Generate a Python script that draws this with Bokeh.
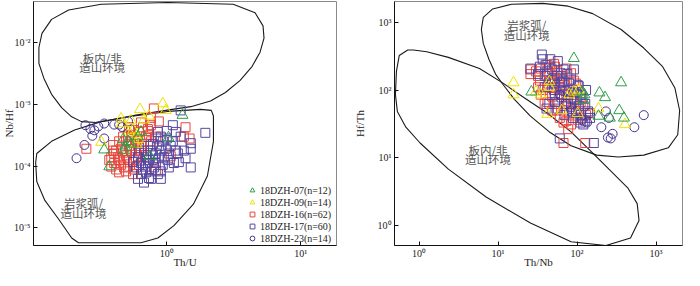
from bokeh.plotting import figure
from bokeh.layouts import row
from bokeh.models import (CustomJSTickFormatter, FixedTicker, Legend, LegendItem, Range1d)
from bokeh.core.properties import value
from bokeh.embed import file_html
from bokeh.resources import INLINE

# ---------------- data: left panel (Th/U vs Nb/Hf) ----------------
g07_thu = [1.31, 1.03, 0.748, 0.372, 0.341, 0.472, 0.514, 0.489, 0.480, 0.610, 0.541, 0.642]
g07_nbhf = [6.7e-4, 2.9e-4, 1.44e-4, 9.8e-5, 1.84e-4, 2.7e-4, 2.52e-4, 2.05e-4, 1.78e-4, 3.0e-4, 2.27e-4, 3.58e-4]

y09_thu = [0.934, 0.983, 0.631, 0.736, 0.676, 0.456, 0.464, 0.541, 0.324, 0.560, 0.600, 0.610, 0.589, 0.523]
y09_nbhf = [1.03e-3, 8.0e-4, 8.3e-4, 6.5e-4, 5.65e-4, 5.85e-4, 4.9e-4, 5.45e-4, 2.44e-4, 3.84e-4, 3.22e-4, 2.7e-4, 2.27e-4, 3.58e-4]

r16_thu = [0.801, 0.872, 1.38, 1.34, 1.48, 1.07, 0.829, 0.251, 0.398, 0.514, 0.723, 0.761, 0.642, 0.723,
           0.610, 0.589, 0.570, 0.570, 0.676, 0.736, 0.385, 0.405, 0.419, 0.441, 0.480, 0.514, 0.560, 0.472,
           0.541, 0.589, 0.385, 0.434, 0.456, 0.497, 0.523, 0.456, 0.419, 0.497, 0.541, 0.620, 0.664, 0.570,
           0.523, 0.441, 0.405, 0.642, 0.699, 0.620, 0.497, 0.398, 0.472, 0.589, 0.761, 0.829, 0.441, 0.523,
           0.699, 0.642, 0.480, 0.541, 0.372, 0.761]
r16_nbhf = [8.6e-4, 5.3e-4, 4.26e-4, 3.0e-4, 2.8e-4, 1.44e-4, 8.5e-5, 1.91e-4, 2.19e-4, 3.22e-4, 3.71e-4, 6.05e-4,
            5.1e-4, 3.98e-4, 2.7e-4, 1.78e-4, 1.25e-4, 8.8e-5, 2.27e-4, 3.22e-4, 1.39e-4, 1.12e-4, 8.8e-5, 7.9e-5,
            1.25e-4, 9.8e-5, 7.4e-5, 1.65e-4, 1.78e-4, 1.39e-4, 9.8e-5, 1.39e-4, 1.05e-4, 1.49e-4, 2.12e-4, 1.91e-4,
            1.78e-4, 2.52e-4, 3.0e-4, 3.58e-4, 4.26e-4, 3.84e-4, 4.26e-4, 2.52e-4, 1.6e-4, 1.78e-4, 1.49e-4, 1.05e-4,
            8.2e-5, 1.78e-4, 3.0e-4, 2.35e-4, 2.52e-4, 3.0e-4, 1.25e-4, 1.25e-4, 3.0e-4, 2.12e-4, 9.5e-5, 2.52e-4,
            1.25e-4, 4.6e-4]

p17_thu = [1.27, 1.11, 1.0, 1.94, 1.51, 1.51, 1.21, 1.23, 1.51, 0.858, 1.0, 0.858, 0.788, 0.872, 0.903, 1.035,
           1.017, 1.13, 0.829, 0.723, 0.664, 0.761, 0.903, 0.736, 0.676, 0.610, 0.642, 0.610, 0.699, 0.788, 0.858,
           0.699, 0.934, 1.07, 1.17, 0.950, 0.761, 0.829, 0.934, 0.801, 0.642, 0.589, 0.736, 0.872, 0.983, 1.11,
           1.34, 1.38, 0.699, 0.761, 0.620, 0.676, 0.903, 1.035, 0.788, 0.903, 1.17, 0.723, 0.560, 1.27]
p17_nbhf = [8.0e-4, 4.6e-4, 3.71e-4, 3.46e-4, 2.35e-4, 1.91e-4, 1.6e-4, 1.16e-4, 9.5e-5, 3.58e-4, 2.8e-4, 2.8e-4,
            2.27e-4, 2.12e-4, 1.78e-4, 1.6e-4, 1.25e-4, 1.12e-4, 1.12e-4, 1.12e-4, 8.8e-5, 8.2e-5, 8.2e-5, 6.4e-5,
            5.4e-5, 6.2e-5, 1.12e-4, 1.39e-4, 1.39e-4, 1.49e-4, 7.4e-5, 7.9e-5, 2.52e-4, 2.12e-4, 1.78e-4, 1.39e-4,
            1.78e-4, 1.6e-4, 1.05e-4, 9.5e-5, 7.4e-5, 9.5e-5, 1.25e-4, 1.34e-4, 1.91e-4, 2.52e-4, 1.78e-4, 1.34e-4,
            9.8e-5, 6.2e-5, 1.65e-4, 1.78e-4, 6.2e-5, 9.5e-5, 1.25e-4, 3.0e-4, 3.58e-4, 2.12e-4, 1.16e-4, 3.0e-4]

c23_thu = [0.247, 0.269, 0.288, 0.278, 0.341, 0.405, 0.441, 0.514, 0.341, 0.243, 0.212, 0.308, 0.464, 0.541]
c23_nbhf = [4.6e-4, 4.0e-4, 3.8e-4, 3.1e-4, 4.9e-4, 4.7e-4, 4.7e-4, 5.3e-4, 2.8e-4, 2.2e-4, 1.34e-4, 4.4e-4, 4.3e-4, 3.9e-4]

# field boundaries, left panel
within_plate_thu = [0.111, 0.117, 0.138, 0.185, 0.324, 1.017, 3.13, 4.56, 5.23, 5.32, 4.97, 4.34, 3.53, 2.74,
                    2.12, 1.51, 0.983, 0.589, 0.385, 0.298, 0.231, 0.195, 0.164, 0.138, 0.121, 0.111, 0.111]
within_plate_nbhf = [0.00839, 0.0142, 0.024, 0.0341, 0.0421, 0.0451, 0.0421, 0.0307, 0.0188, 0.0119, 0.00705,
                     0.00416, 0.00246, 0.00156, 0.00114, 9.2e-4, 8.0e-4, 6.7e-4, 5.65e-4, 5.1e-4, 5.26e-4, 6.3e-4,
                     8.9e-4, 0.00146, 0.00264, 0.00463, 0.00839]
arc_thu = [0.107, 0.138, 0.205, 0.324, 0.570, 1.017, 1.79, 2.15, 2.23, 2.23, 2.01, 1.58, 1.13, 0.858, 0.642,
           0.219, 0.195, 0.156, 0.123, 0.107, 0.105, 0.107]
arc_nbhf = [1.6e-4, 2.52e-4, 3.84e-4, 5.26e-4, 6.5e-4, 7.7e-4, 8.3e-4, 8.0e-4, 6.5e-4, 2.52e-4, 6.9e-5, 2.41e-5,
            1.08e-5, 6.8e-6, 5.7e-6, 5.7e-6, 6.8e-6, 1.37e-5, 2.77e-5, 5.6e-5, 1.13e-4, 1.6e-4]

# ---------------- data: right panel (Th/Nb vs Hf/Th) ----------------
g07_thnb = [91.2, 361, 26.4, 117, 124, 120, 192, 226, 342, 392, 187, 260]
g07_hfth = [298, 130, 94.8, 94.8, 86.2, 71.1, 91.9, 78.3, 50.1, 38.9, 41.4, 38.9]

y09_thnb = [15.7, 15.7, 30.3, 44.6, 44.6, 34.8, 42.2, 63.8, 79.5, 91.2, 102, 105, 187, 403]
y09_hfth = [130, 86.2, 94.8, 135, 111, 86.2, 44.2, 50.1, 86.2, 94.8, 45.6, 101, 53.5, 31.1]

r16_thnb = [25.7, 25.7, 33.9, 34.8, 42.2, 48.4, 67.4, 73.2, 77.3, 67.4, 146, 127, 44.6, 52.6, 60.4, 69.3, 84.0,
            48.4, 58.7, 77.3, 96.4, 102, 42.2, 51.2, 36.8, 55.6, 58.7, 38.9, 32.1, 45.9, 63.8, 73.2, 88.7, 111,
            84.0, 55.6, 40.0, 48.4, 34.8, 73.2, 63.8, 96.4, 111, 91.2, 79.5, 60.4, 67.4, 84.0, 51.2, 42.2, 32.1,
            30.3, 69.3, 105, 120, 91.2, 55.6, 45.9, 38.9, 130, 111, 51.2]
r16_hfth = [204, 174, 139, 86.2, 66.8, 50.1, 50.1, 35.3, 26.5, 16.5, 45.6, 16.5, 179, 224, 148, 119, 179, 108,
            86.2, 69.0, 48.6, 36.5, 239, 247, 101, 191, 126, 163, 111, 139, 101, 86.2, 101, 66.8, 62.7, 62.7,
            86.2, 80.8, 210, 210, 163, 126, 86.2, 73.5, 45.6, 38.9, 33.2, 31.1, 126, 111, 163, 191, 58.9, 53.5,
            58.9, 139, 50.1, 224, 62.7, 42.8, 38.9, 153]

p17_thnb = [35.8, 36.8, 57.1, 25.7, 33.9, 67.4, 91.2, 40.0, 63.8, 84.0, 105, 96.4, 41.1, 84.0, 111, 127, 60.4,
            163, 120, 52.6, 44.6, 40.0, 48.4, 67.4, 51.2, 63.8, 84.0, 105, 69.3, 91.2, 102, 43.4, 55.6, 75.2,
            79.5, 117, 138, 60.4, 73.2, 32.1, 48.4, 96.4, 111, 127, 57.1, 79.5, 88.7, 38.9, 45.9, 71.2, 99.1,
            52.6, 62.1, 130, 86.3, 111, 42.2, 146, 77.3, 52.6]
p17_hfth = [339, 289, 271, 210, 224, 204, 204, 163, 130, 144, 115, 94.8, 53.5, 57.0, 33.2, 35.3, 19.3, 16.5,
            31.1, 86.2, 62.7, 239, 204, 139, 101, 78.3, 73.5, 58.9, 42.8, 91.9, 119, 126, 163, 174, 101, 75.9,
            48.6, 111, 62.7, 174, 144, 45.6, 86.2, 62.7, 53.5, 126, 38.9, 111, 289, 97.9, 71.1, 66.8, 179, 101,
            48.6, 42.8, 191, 38.9, 86.2, 126]

c23_thnb = [232, 253, 134, 117, 699, 531, 246, 282, 267, 96.4, 73.2, 60.4, 146, 203]
c23_hfth = [48.6, 38.9, 33.2, 36.5, 42.8, 28.3, 19.9, 22.6, 19.3, 48.6, 62.7, 86.2, 45.6, 28.3]

# field boundaries, right panel
arc2_thnb = [6.50, 6.15, 6.50, 7.66, 9.29, 11.3, 16.1, 25.7, 44.6, 84.0, 177, 333, 699, 1430, 1883, 1990, 1734,
             1213, 699, 361, 158, 77.3, 36.8, 14.8, 8.55, 6.50]
arc2_hfth = [1211, 800, 497, 289, 174, 126, 73.5, 41.4, 24.1, 15.0, 10.9, 10.2, 10.9, 14.0, 21.9, 50.1, 108,
             224, 424, 800, 1374, 1774, 1950, 1891, 1612, 1211]
wp2_thnb = [0.719, 0.561, 0.517, 0.502, 0.531, 0.681, 1.03, 2.35, 7.06, 25.7, 84.0, 232, 475, 609, 577, 438,
            253, 146, 84.0, 42.2, 21.2, 11.3, 5.82, 2.35, 1.25, 0.848, 0.719]
wp2_hfth = [397, 328, 191, 86.2, 48.6, 28.3, 16.5, 6.75, 2.60, 1.07, 0.563, 0.496, 0.640, 1.17, 2.08, 3.57,
            6.75, 12.8, 24.1, 45.6, 78.3, 130, 210, 308, 373, 397, 397]

labels = ["18DZH-07(n=12)", "18DZH-09(n=14)", "18DZH-16(n=62)", "18DZH-17(n=60)", "18DZH-23(n=14)"]
left_x_ticks = [0.1, 1, 10]
left_y_ticks = [1e-5, 1e-4, 1e-3, 1e-2]
right_ticks = [1, 10, 100, 1000]

# ---------------- styles ----------------
GREEN, YELLOW, RED, PURPLE, CIRC = "#2e9e4a", "#f0e300", "#e8463c", "#5547a0", "#45328f"
SERIF = "Liberation Serif"
CJK = "Noto Sans CJK SC"

sup_js = """
const m = {"-":"\u207b","0":"\u2070","1":"\u00b9","2":"\u00b2","3":"\u00b3","4":"\u2074",
           "5":"\u2075","6":"\u2076","7":"\u2077","8":"\u2078","9":"\u2079"};
const e = Math.round(Math.log10(tick));
return "10" + String(e).split("").map(c => m[c]).join("");
"""


def style(p, xticks, yticks, xlabel, ylabel, xstand, ystand):
    p.xaxis[0].ticker = FixedTicker(ticks=xticks)
    p.yaxis[0].ticker = FixedTicker(ticks=yticks)
    p.xaxis[0].axis_label = xlabel
    p.yaxis[0].axis_label = ylabel
    p.xaxis[0].axis_label_standoff = xstand
    p.yaxis[0].axis_label_standoff = ystand
    for ax in (p.xaxis[0], p.yaxis[0]):
        ax.formatter = CustomJSTickFormatter(code=sup_js)
        ax.major_tick_in = 4
        ax.major_tick_out = 0
        ax.minor_tick_line_color = None
        ax.axis_line_color = "#111111"
        ax.major_tick_line_color = "#111111"
        ax.major_label_text_font = SERIF
        ax.major_label_text_font_size = "10px"
        ax.major_label_text_color = "#222222"
        ax.major_label_standoff = 3
        ax.axis_label_text_font = SERIF
        ax.axis_label_text_font_size = "11px"
        ax.axis_label_text_font_style = "normal"
        ax.axis_label_text_color = "#222222"
    p.xaxis[0].major_label_standoff = 2
    p.grid.visible = False
    p.outline_line_color = "#8a8a8a"
    p.background_fill_color = "white"
    p.border_fill_color = "white"


def field_text(p, xs, ys, texts):
    p.text(x=xs, y=ys, text=texts, text_font=value(CJK), text_font_size=value("11.5px"),
           text_color="#555555", text_align="center", text_baseline="middle")


# ---------------- left panel ----------------
p1 = figure(width=350, height=270, x_axis_type="log", y_axis_type="log",
            x_range=Range1d(10 ** -0.995, 10 ** 1.267), y_range=Range1d(10 ** -5.289, 10 ** -1.330),
            output_backend="svg", toolbar_location=None,
            min_border_left=32, min_border_right=14, min_border_top=1, min_border_bottom=24)
style(p1, left_x_ticks, left_y_ticks, "Th/U", "Nb/Hf", -6, -4)

p1.patch(within_plate_thu, within_plate_nbhf, fill_color=None, line_color="#1a1a1a", line_width=1.1)
p1.patch(arc_thu, arc_nbhf, fill_color=None, line_color="#1a1a1a", line_width=1.1)

r3 = p1.scatter(r16_thu, r16_nbhf, marker="square", size=9, fill_color=None, line_color=RED, line_width=1)
r4 = p1.scatter(p17_thu, p17_nbhf, marker="square", size=9, fill_color=None, line_color=PURPLE, line_width=1)
r5 = p1.scatter(c23_thu, c23_nbhf, marker="circle", size=9, fill_color=None, line_color=CIRC, line_width=1)
r2 = p1.scatter(y09_thu, y09_nbhf, marker="triangle", size=11, fill_color=None, line_color=YELLOW, line_width=1)
r1 = p1.scatter(g07_thu, g07_nbhf, marker="triangle", size=11, fill_color=None, line_color=GREEN, line_width=1)

field_text(p1, [0.33, 0.33, 0.239, 0.239], [0.0057, 0.00402, 2.49e-5, 1.76e-5],
           ["板内/非", "造山环境", "岩浆弧/", "造山环境"])

legend = Legend(items=[LegendItem(label=lab, renderers=[r]) for lab, r in zip(labels, [r1, r2, r3, r4, r5])],
                location=(213, 1), glyph_width=12, glyph_height=12, spacing=0, label_standoff=2,
                padding=0, margin=0, border_line_color=None, background_fill_alpha=0,
                label_text_font=SERIF, label_text_font_size="10px", label_height=11,
                label_text_color="#222222")
p1.add_layout(legend)

# ---------------- right panel ----------------
p2 = figure(width=334, height=270, x_axis_type="log", y_axis_type="log",
            x_range=Range1d(10 ** -0.311, 10 ** 3.335), y_range=Range1d(10 ** -0.304, 10 ** 3.318),
            output_backend="svg", toolbar_location=None,
            min_border_left=43, min_border_right=2, min_border_top=1, min_border_bottom=24)
style(p2, right_ticks, right_ticks, "Th/Nb", "Hf/Th", -6, 9)

p2.patch(arc2_thnb, arc2_hfth, fill_color=None, line_color="#1a1a1a", line_width=1.1)
p2.patch(wp2_thnb, wp2_hfth, fill_color=None, line_color="#1a1a1a", line_width=1.1)

p2.scatter(r16_thnb, r16_hfth, marker="square", size=9, fill_color=None, line_color=RED, line_width=1)
p2.scatter(p17_thnb, p17_hfth, marker="square", size=9, fill_color=None, line_color=PURPLE, line_width=1)
p2.scatter(c23_thnb, c23_hfth, marker="circle", size=9, fill_color=None, line_color=CIRC, line_width=1)
p2.scatter(y09_thnb, y09_hfth, marker="triangle", size=11, fill_color=None, line_color=YELLOW, line_width=1)
p2.scatter(g07_thnb, g07_hfth, marker="triangle", size=11, fill_color=None, line_color=GREEN, line_width=1)

field_text(p2, [23.0, 23.0, 7.45, 7.45], [938, 661, 13.2, 9.57],
           ["岩浆弧/", "造山环境", "板内/非", "造山环境"])

layout = row(p1, p2)
open("out.html", "w").write(file_html(layout, INLINE))
